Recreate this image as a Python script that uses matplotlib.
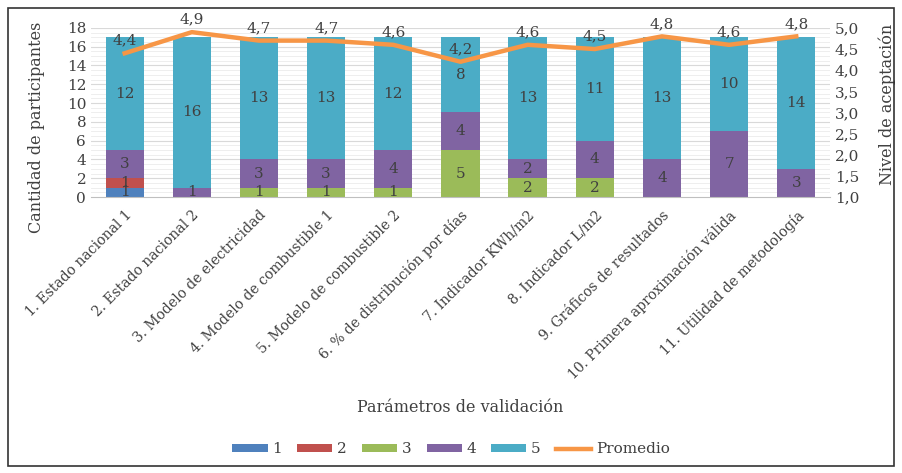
import matplotlib.pyplot as plt
import numpy as np
from matplotlib.patches import Rectangle

plt.rcParams['font.family'] = ['DejaVu Serif']

categorias = ['1. Estado nacional 1', '2. Estado nacional 2', '3. Modelo de electricidad',
              '4. Modelo de combustible 1', '5. Modelo de combustible 2',
              '6. % de distribución por días', '7. Indicador KWh/m2', '8. Indicador L/m2',
              '9. Gráficos de resultados', '10. Primera aproximación válida',
              '11. Utilidad de metodología']
nivel_1 = [1, 0, 0, 0, 0, 0, 0, 0, 0, 0, 0]
nivel_2 = [1, 0, 0, 0, 0, 0, 0, 0, 0, 0, 0]
nivel_3 = [0, 0, 1, 1, 1, 5, 2, 2, 0, 0, 0]
nivel_4 = [3, 1, 3, 3, 4, 4, 2, 4, 4, 7, 3]
nivel_5 = [12, 16, 13, 13, 12, 8, 13, 11, 13, 10, 14]
promedio = [4.4, 4.9, 4.7, 4.7, 4.6, 4.2, 4.6, 4.5, 4.8, 4.6, 4.8]

series = [('1', nivel_1, '#4F81BD'), ('2', nivel_2, '#C0504D'), ('3', nivel_3, '#9BBB59'),
          ('4', nivel_4, '#8064A2'), ('5', nivel_5, '#4BACC6')]

txt = '#404040'
fig = plt.figure(figsize=(9.02, 4.73), dpi=100)
fig.patches.append(Rectangle((0.009, 0.015), 0.982, 0.968, transform=fig.transFigure,
                             fill=False, edgecolor='#333333', linewidth=1.2))
ax = fig.add_axes([0.101, 0.5835, 0.819, 0.3575])
x = np.arange(len(categorias))

# thin light grid lines like the original
for yy in np.arange(0, 18.01, 0.5):
    ax.axhline(yy, color='#ebebeb', linewidth=0.6, zorder=0)
for yy in np.arange(2, 18.01, 2):
    ax.axhline(yy, color='#d9d9d9', linewidth=0.8, zorder=0)

bottom = np.zeros(len(x))
handles = []
for nombre, vals, color in series:
    vals = np.array(vals, dtype=float)
    b = ax.bar(x, vals, 0.57, bottom=bottom, color=color, label=nombre, zorder=2)
    handles.append(b)
    for xi, v, bt in zip(x, vals, bottom):
        if v > 0:
            ax.text(xi, bt + v / 2, str(int(v)), ha='center', va='center',
                    fontsize=11, color=txt, zorder=5)
    bottom += vals

ax.set_xlim(-0.5, 10.5)
ax.set_ylim(0, 18)
ax.set_yticks(np.arange(0, 19, 2))
ax.set_xticks(x)
ax.set_xticklabels(categorias, rotation=45, ha='right', rotation_mode='anchor',
                   fontsize=10, color=txt)
ax.tick_params(axis='y', labelsize=11, colors=txt, length=0)
ax.tick_params(axis='x', length=0, pad=8)
for s in ['top', 'right', 'left']:
    ax.spines[s].set_visible(False)
ax.spines['bottom'].set_color('#bfbfbf')
ax.set_ylabel('Cantidad de participantes', fontsize=11.5, color=txt)
ax.yaxis.set_label_coords(-0.062, 0.41)
ax.set_xlabel('Parámetros de validación', fontsize=11.5, color=txt, labelpad=12)

ax2 = ax.twinx()
ax2.set_ylim(1.0, 5.0)
ax2.set_yticks(np.arange(1.0, 5.01, 0.5))
ax2.set_yticklabels([f'{v:.1f}'.replace('.', ',') for v in np.arange(1.0, 5.01, 0.5)])
ax2.tick_params(axis='y', labelsize=11, colors=txt, length=0)
for s in ax2.spines.values():
    s.set_visible(False)
linea, = ax2.plot(x, promedio, color='#F79646', linewidth=3.2, label='Promedio', zorder=4)
for xi, p in zip(x, promedio):
    ax2.annotate(f'{p:.1f}'.replace('.', ','), (xi, p), xytext=(0, 4),
                 textcoords='offset points', ha='center', va='bottom',
                 fontsize=11, color=txt)
ax2.set_ylabel('Nivel de aceptación', fontsize=11.5, color=txt)
ax2.yaxis.set_label_coords(1.066, 0.55)

fig.legend(handles + [linea], ['1', '2', '3', '4', '5', 'Promedio'], loc='center',
           bbox_to_anchor=(0.5, 0.05), ncol=6, frameon=False, fontsize=11,
           handlelength=2.3, handleheight=0.45, columnspacing=1.0, handletextpad=0.3,
           labelcolor=txt)

fig.savefig('out.png', dpi=100)
